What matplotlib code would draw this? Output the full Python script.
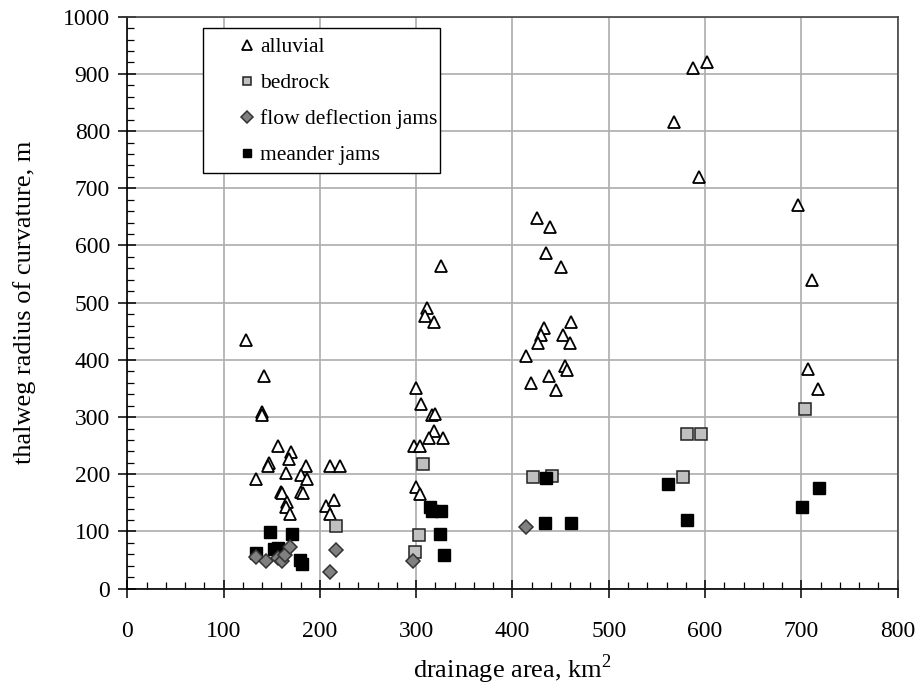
import matplotlib
matplotlib.use("Agg")
import matplotlib.pyplot as plt
from matplotlib.ticker import MultipleLocator
from matplotlib.patches import Rectangle

# ---- data ----
alluvial_x = [123, 142, 140, 140, 156, 170, 168, 147, 146, 186, 210, 221, 134, 165, 180, 187,
              160, 161, 180, 182, 166, 165, 169, 206, 215, 211,
              326, 311, 309, 318, 300, 305, 316, 320, 318, 313, 328, 298, 304, 300, 304,
              425, 439, 435, 450, 461, 433, 430, 427, 452, 460, 414, 455, 457, 438, 419, 445,
              602, 587, 568, 594,
              697, 711, 707, 717]
alluvial_y = [434, 371, 309, 304, 250, 239, 226, 219, 215, 215, 215, 215, 192, 202, 198, 192,
              169, 167, 169, 167, 151, 142, 130, 145, 155, 130,
              564, 490, 477, 467, 350, 323, 304, 305, 276, 263, 263, 250, 250, 177, 165,
              648, 633, 587, 563, 466, 456, 444, 430, 444, 430, 406, 390, 382, 372, 360, 347,
              921, 910, 815, 720,
              671, 539, 384, 349]

bedrock_x = [217, 307, 303, 299, 421, 441, 577, 581, 596, 704]
bedrock_y = [109, 218, 93, 65, 195, 197, 196, 271, 271, 314]

flow_x = [134, 144, 157, 161, 164, 169, 210, 217, 297, 414]
flow_y = [56, 48, 53, 48, 59, 73, 30, 68, 48, 107]

meander_x = [148, 171, 152, 157, 134, 179, 181, 314, 316, 326, 325, 329,
             435, 434, 461, 562, 581, 701, 718]
meander_y = [99, 96, 69, 71, 62, 50, 44, 143, 135, 136, 95, 59,
             194, 114, 115, 183, 120, 143, 176]

series_labels = ["alluvial", "bedrock", "flow deflection jams", "meander jams"]
x_label = "drainage area, km$^2$"
y_label = "thalweg radius of curvature, m"

# ---- figure ----
plt.rcParams['font.family'] = ['Liberation Serif', 'DejaVu Serif']
plt.rcParams['mathtext.fontset'] = 'custom'
plt.rcParams['mathtext.rm'] = 'Liberation Serif'

fig = plt.figure(figsize=(9.19, 6.89), dpi=100)
ax = fig.add_axes([0.1385, 0.1456, 0.8383, 0.8302])

ax.set_xlim(0, 800)
ax.set_ylim(0, 1000)
ax.xaxis.set_major_locator(MultipleLocator(100))
ax.xaxis.set_minor_locator(MultipleLocator(20))
ax.yaxis.set_major_locator(MultipleLocator(100))
ax.yaxis.set_minor_locator(MultipleLocator(20))
ax.grid(True, which='major', color='#adadad', linewidth=1.2)
ax.set_axisbelow(True)

ax.tick_params(which='major', direction='inout', length=13, width=1.1,
               labelsize=17, pad=6)
ax.tick_params(which='minor', direction='in', length=5, width=0.9)
ax.tick_params(axis='x', pad=17)

for s in ['left', 'bottom']:
    ax.spines[s].set_color('black')
    ax.spines[s].set_linewidth(1.2)
for s in ['top', 'right']:
    ax.spines[s].set_color('#444444')
    ax.spines[s].set_linewidth(1.2)

ax.plot(alluvial_x, alluvial_y, linestyle='none', marker='^', markersize=9,
        markerfacecolor='white', markeredgecolor='black', markeredgewidth=1.3,
        label=series_labels[0], zorder=3)
ax.plot(bedrock_x, bedrock_y, linestyle='none', marker='s', markersize=8,
        markerfacecolor='#c0c0c0', markeredgecolor='#222222', markeredgewidth=1.1,
        label=series_labels[1], zorder=3)
ax.plot(flow_x, flow_y, linestyle='none', marker='D', markersize=7.5,
        markerfacecolor='#808080', markeredgecolor='#333333', markeredgewidth=1.1,
        label=series_labels[2], zorder=4)
ax.plot(meander_x, meander_y, linestyle='none', marker='s', markersize=8,
        markerfacecolor='black', markeredgecolor='black', markeredgewidth=1.0,
        label=series_labels[3], zorder=3)

ax.set_xlabel(x_label, fontsize=19, labelpad=7)
ax.set_ylabel(y_label, fontsize=19, labelpad=19.5)

# legend box (drawn separately so the entries can sit inset as in the reference)
box = Rectangle((0.0983, 0.7268), 0.3076, 0.2534, transform=ax.transAxes,
                facecolor='white', edgecolor='black', linewidth=1.0, zorder=5)
ax.add_patch(box)

leg = ax.legend(loc='upper left', bbox_to_anchor=(0.133, 0.9792), fontsize=15.5,
                frameon=False, markerscale=0.75, handlelength=0.8,
                handletextpad=0.2, borderpad=0.4, labelspacing=0.74,
                borderaxespad=0)
leg.set_zorder(6)

fig.savefig("out.png", dpi=100)
